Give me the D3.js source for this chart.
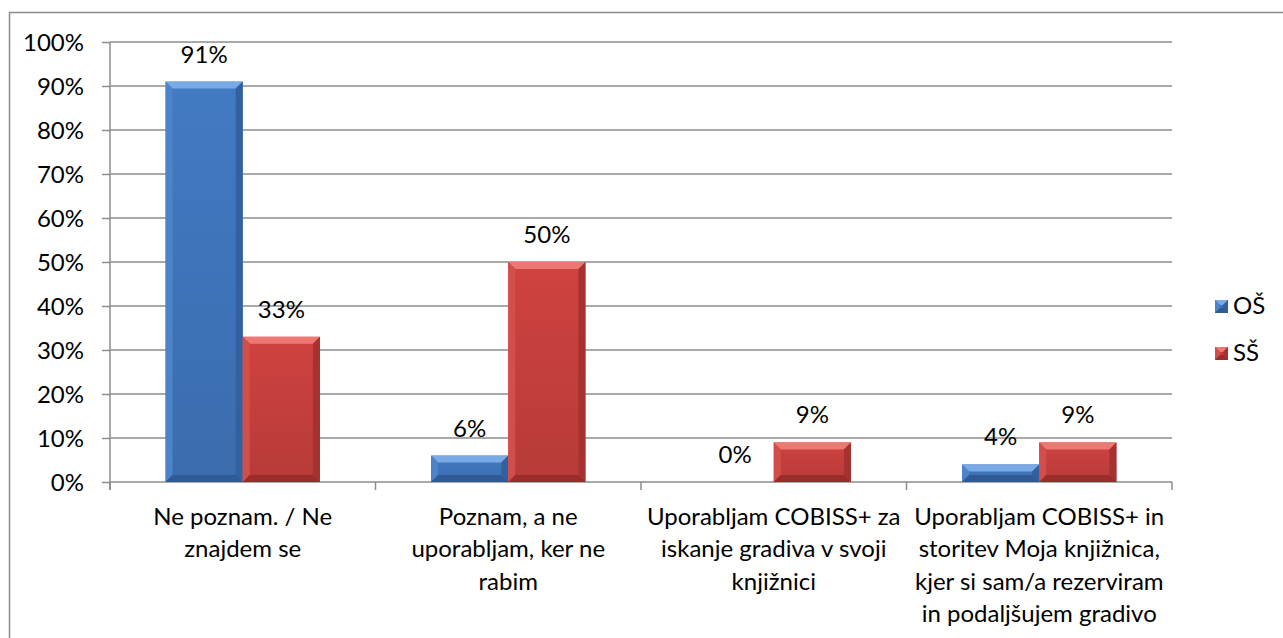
<!DOCTYPE html>
<html lang="sl">
<head>
    <meta charset="UTF-8">
    <title>COBISS+ - OŠ / SŠ</title>
    <script src="https://d3js.org/d3.v7.min.js"></script>
    <style>
        body { margin: 0; background: white; }
        text { font-family: Lato, "Open Sans", sans-serif; fill: #000; }
    </style>
</head>
<body>
<svg id="main" width="1283" height="638"></svg>
<script>
    // data
    let categories = [
        ["Ne poznam. / Ne", "znajdem se"],
        ["Poznam, a ne", "uporabljam, ker ne", "rabim"],
        ["Uporabljam COBISS+ za", "iskanje gradiva v svoji", "knjižnici"],
        ["Uporabljam COBISS+ in", "storitev Moja knjižnica,", "kjer si sam/a rezerviram", "in podaljšujem gradivo"]
    ];
    let seriesNames = ["OŠ", "SŠ"];
    let valuesOS = [91, 6, 0, 4];
    let valuesSS = [33, 50, 9, 9];
    let yTicks = [0, 10, 20, 30, 40, 50, 60, 70, 80, 90, 100];

    let svg = d3.select('svg#main');
    let plot = {left: 110, right: 1172, top: 42, bottom: 482};
    let gridColor = '#8c8c8c';
    let fontSize = '24px';

    // outer frame
    svg.append('rect')
        .attr('x', 9.5).attr('y', 12.5)
        .attr('width', 1300).attr('height', 700)
        .style('fill', 'none').style('stroke', gridColor).style('stroke-width', 1.5);

    let catIdx = d3.range(categories.length);
    let x0 = d3.scaleBand().domain(catIdx).range([plot.left, plot.right]).padding(0);
    let x1 = d3.scaleBand().domain(seriesNames).range([0, x0.bandwidth()])
        .paddingInner(0).paddingOuter(0.72);
    let y = d3.scaleLinear().domain([0, 100]).range([plot.bottom, plot.top]);

    // gridlines
    svg.append('g').selectAll('line').data(yTicks.filter(d => d > 0)).join('line')
        .attr('x1', plot.left).attr('x2', plot.right)
        .attr('y1', d => y(d)).attr('y2', d => y(d))
        .style('stroke', gridColor).style('stroke-width', 1.5);

    // y axis
    let yAxis = svg.append('g')
        .attr('transform', 'translate(' + plot.left + ',0)')
        .call(d3.axisLeft(y).tickValues(yTicks).tickFormat(d => d + '%').tickSize(8).tickPadding(18));
    yAxis.select('.domain').attr('d', 'M0,' + plot.top + 'V' + (plot.bottom + 8));
    yAxis.selectAll('path, line').style('stroke', gridColor).style('stroke-width', 1.5);
    yAxis.selectAll('text').style('font-size', fontSize).style('font-family', 'Lato, sans-serif')
        .attr('fill', '#000').attr('dy', '0.35em');

    // x axis line + category ticks
    let xg = svg.append('g');
    xg.append('line').attr('x1', plot.left).attr('x2', plot.right)
        .attr('y1', plot.bottom).attr('y2', plot.bottom)
        .style('stroke', gridColor).style('stroke-width', 1.5);
    let bounds = catIdx.map(i => x0(i)).concat([x0(catIdx.length - 1) + x0.bandwidth()]);
    xg.selectAll('line.tick').data(bounds).join('line').attr('class', 'tick')
        .attr('x1', d => d).attr('x2', d => d)
        .attr('y1', plot.bottom).attr('y2', plot.bottom + 8)
        .style('stroke', gridColor).style('stroke-width', 1.5);

    // category labels
    let catLabels = svg.append('g').selectAll('text').data(categories).join('text')
        .attr('text-anchor', 'middle')
        .style('font-size', fontSize);
    catLabels.each(function (lines, i) {
        d3.select(this).selectAll('tspan').data(lines).join('tspan')
            .attr('x', x0(i) + x0.bandwidth() / 2)
            .attr('y', (d, j) => 525 + j * 32.3)
            .text(d => d);
    });

    // colours for beveled bars
    let palette = {
        "OŠ": {main: '#3f74ba', top: '#79aae6', left: '#4d84c9', right: '#33619f', bottom: '#2f5a94'},
        "SŠ": {main: '#c43f3c', top: '#ec7773', left: '#d14e4a', right: '#a53230', bottom: '#9a2d2b'}
    };

    let defs = svg.append('defs');
    seriesNames.forEach((s, k) => {
        let g = defs.append('linearGradient').attr('id', 'grad' + k)
            .attr('x1', 0).attr('y1', 0).attr('x2', 0).attr('y2', 1);
        g.append('stop').attr('offset', '0%').attr('stop-color', d3.color(palette[s].main).brighter(0.15));
        g.append('stop').attr('offset', '100%').attr('stop-color', d3.color(palette[s].main).darker(0.2));
    });

    function drawBevel(g, bx, by, bw, bh, c, k, size) {
        if (bh <= 0) return;
        let b = Math.min(size, bh / 2, bw / 2);
        g.append('rect').attr('x', bx).attr('y', by).attr('width', bw).attr('height', bh)
            .style('fill', 'url(#grad' + k + ')');
        let poly = (pts, fill) => g.append('polygon')
            .attr('points', pts.map(p => p.join(',')).join(' ')).style('fill', fill);
        poly([[bx, by], [bx + bw, by], [bx + bw - b, by + b], [bx + b, by + b]], c.top);
        poly([[bx, by], [bx + b, by + b], [bx + b, by + bh - b], [bx, by + bh]], c.left);
        poly([[bx + bw, by], [bx + bw - b, by + b], [bx + bw - b, by + bh - b], [bx + bw, by + bh]], c.right);
        poly([[bx, by + bh], [bx + b, by + bh - b], [bx + bw - b, by + bh - b], [bx + bw, by + bh]], c.bottom);
    }

    let seriesData = [valuesOS, valuesSS];
    let bars = svg.append('g');
    seriesNames.forEach((s, k) => {
        seriesData[k].forEach((v, i) => {
            let bx = x0(i) + x1(s);
            let by = y(v);
            let g = bars.append('g');
            drawBevel(g, bx, by, x1.bandwidth(), plot.bottom - by, palette[s], k, 7);
        });
    });

    // value labels
    let labels = svg.append('g');
    seriesNames.forEach((s, k) => {
        labels.selectAll('text.s' + k).data(seriesData[k]).join('text')
            .attr('class', 's' + k)
            .attr('x', (d, i) => x0(i) + x1(s) + x1.bandwidth() / 2)
            .attr('y', d => y(d) - 19)
            .attr('text-anchor', 'middle')
            .style('font-size', fontSize)
            .text(d => d + '%');
    });

    // legend
    let legend = svg.append('g').attr('transform', 'translate(1215,0)');
    let legendY = [306, 353];
    seriesNames.forEach((s, k) => {
        let g = legend.append('g');
        drawBevel(g, 0, legendY[k] - 6, 13, 13, palette[s], k, 5);
        g.append('text').attr('x', 18).attr('y', legendY[k]).attr('dy', '0.35em')
            .style('font-size', fontSize).text(s);
    });
</script>
</body>
</html>
